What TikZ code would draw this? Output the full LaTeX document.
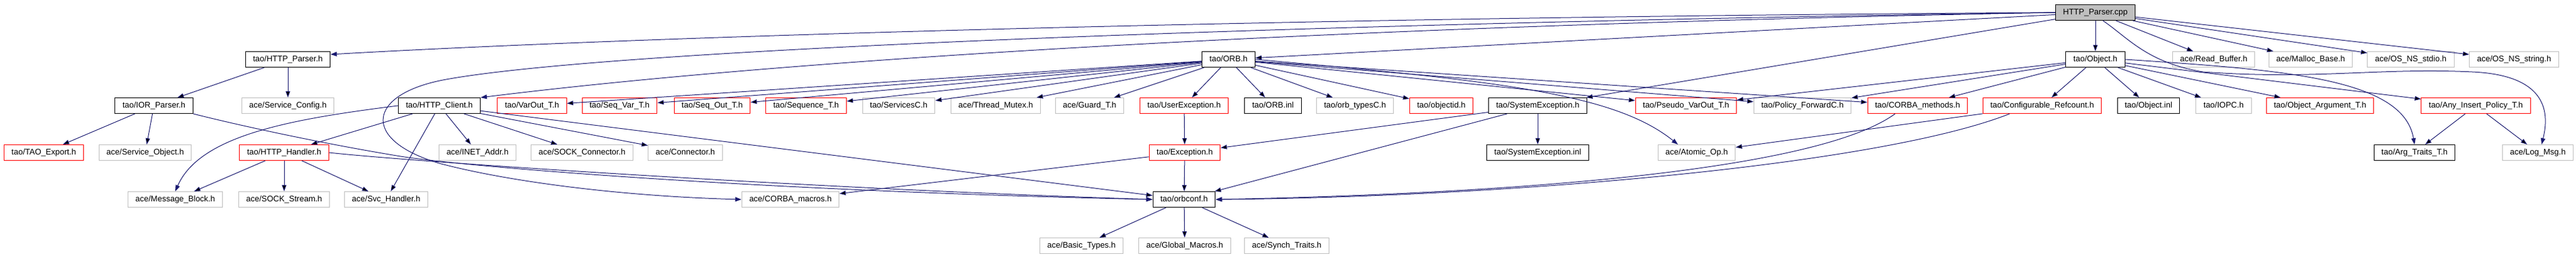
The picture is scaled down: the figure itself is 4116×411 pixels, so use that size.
\documentclass[tikz,border=0pt]{standalone}
\usepackage{fontspec}
\setmainfont{Liberation Sans}
\usetikzlibrary{arrows.meta}
\definecolor{edgeblue}{HTML}{191970}
\definecolor{boxgray}{HTML}{BFBFBF}

\begin{document}
\begin{tikzpicture}[x=1pt, y=-1pt, text=black,
  >={Triangle[length=10pt,width=7pt]},
  file/.style={draw, line width=1pt, inner xsep=12pt, inner ysep=0pt,
    minimum height=25pt, text height=9.5pt, text depth=2.5pt,
    font=\fontsize{13}{15}\selectfont},
  known/.style={file, draw=black},
  broken/.style={file, draw=red},
  extern/.style={file, draw=boxgray},
  dep/.style={draw=edgeblue, line width=1pt, ->}]

\useasboundingbox (0,0) rectangle (4116,411);

% the source file
\node (cpp) [known, fill=boxgray] at (3348,20) {HTTP\_Parser.cpp};

% row 1
\node (httpparser) [known] at (460,95) {tao/HTTP\_Parser.h};
\node (orb) [known] at (1963,95) {tao/ORB.h};
\node (object) [known] at (3348,95) {tao/Object.h};
\node (readbuf) [extern] at (3537,95) {ace/Read\_Buffer.h};
\node (mallocbase) [extern] at (3692,95) {ace/Malloc\_Base.h};
\node (osstdio) [extern] at (3852,95) {ace/OS\_NS\_stdio.h};
\node (osstring) [extern] at (4017,95) {ace/OS\_NS\_string.h};

% row 2
\node (iorparser) [known] at (246,169) {tao/IOR\_Parser.h};
\node (serviceconfig) [extern] at (460,169) {ace/Service\_Config.h};
\node (httpclient) [known] at (702,169) {tao/HTTP\_Client.h};
\node (varout) [broken] at (850,169) {tao/VarOut\_T.h};
\node (seqvar) [broken] at (990,169) {tao/Seq\_Var\_T.h};
\node (seqout) [broken] at (1138,169) {tao/Seq\_Out\_T.h};
\node (sequence) [broken] at (1288,169) {tao/Sequence\_T.h};
\node (servicesc) [extern] at (1436,169) {tao/ServicesC.h};
\node (threadmutex) [extern] at (1591,169) {ace/Thread\_Mutex.h};
\node (guard) [extern] at (1741,169) {ace/Guard\_T.h};
\node (userexc) [broken] at (1892,169) {tao/UserException.h};
\node (orbinl) [known] at (2034,169) {tao/ORB.inl};
\node (orbtypes) [extern] at (2165,169) {tao/orb\_typesC.h};
\node (objectid) [broken] at (2303,169) {tao/objectid.h};
\node (sysexc) [known] at (2457,169) {tao/SystemException.h};
\node (pseudovarout) [broken] at (2694,169) {tao/Pseudo\_VarOut\_T.h};
\node (policyfwd) [extern] at (2880,169) {tao/Policy\_ForwardC.h};
\node (corbamethods) [broken] at (3064,169) {tao/CORBA\_methods.h};
\node (refcount) [broken] at (3263,169) {tao/Configurable\_Refcount.h};
\node (objectinl) [known] at (3433,169) {tao/Object.inl};
\node (iopc) [extern] at (3553,169) {tao/IOPC.h};
\node (objectarg) [broken] at (3707,169) {tao/Object\_Argument\_T.h};
\node (anyinsert) [broken] at (3956,169) {tao/Any\_Insert\_Policy\_T.h};

% row 3
\node (taoexport) [broken] at (70,244) {tao/TAO\_Export.h};
\node (serviceobject) [extern] at (232,244) {ace/Service\_Object.h};
\node (httphandler) [broken] at (454,244) {tao/HTTP\_Handler.h};
\node (inetaddr) [extern] at (763,244) {ace/INET\_Addr.h};
\node (sockconnector) [extern] at (930,244) {ace/SOCK\_Connector.h};
\node (connector) [extern] at (1095,244) {ace/Connector.h};
\node (exception) [broken] at (1893,244) {tao/Exception.h};
\node (sysexcinl) [known] at (2457,244) {tao/SystemException.inl};
\node (atomicop) [extern] at (2711,244) {ace/Atomic\_Op.h};
\node (argtraits) [known] at (3858,244) {tao/Arg\_Traits\_T.h};
\node (logmsg) [extern] at (4055,244) {ace/Log\_Msg.h};

% row 4
\node (msgblock) [extern] at (280,319) {ace/Message\_Block.h};
\node (sockstream) [extern] at (454,319) {ace/SOCK\_Stream.h};
\node (svchandler) [extern] at (617,319) {ace/Svc\_Handler.h};
\node (corbamacros) [extern] at (1263,319) {ace/CORBA\_macros.h};
\node (orbconf) [known] at (1892,319) {tao/orbconf.h};

% row 5
\node (basictypes) [extern] at (1728,393) {ace/Basic\_Types.h};
\node (globalmacros) [extern] at (1893,393) {ace/Global\_Macros.h};
\node (synchtraits) [extern] at (2056,393) {ace/Synch\_Traits.h};

% HTTP_Parser.cpp includes
\draw[dep] (cpp.west) .. controls (2000,28) and (1000,60) .. ([yshift=8]httpparser.east);
\draw[dep] (cpp.west) .. controls (2200,40) and (1300,90) .. (httpclient.north east);
\draw[dep] (cpp.west) .. controls (2200,35) and (1000,75) .. (713,127)
  .. controls (585,150) and (575,225) .. (705,262)
  .. controls (820,292) and (1000,314) .. (corbamacros.west);
\path[dep] (cpp) edge (orb) edge (object) edge (sysexc)
  edge (readbuf) edge (mallocbase) edge (osstdio) edge (osstring);
\draw[dep] ([xshift=12]cpp.south) .. controls (3400,60) and (3430,100) .. (3520,115)
  .. controls (3700,128) and (3800,108) .. (3950,115)
  .. controls (4065,120) and (4075,175) .. ([xshift=6]logmsg.north);

% parser side
\path[dep] (httpparser) edge (iorparser) edge (serviceconfig);
\path[dep] (iorparser) edge (taoexport) edge (serviceobject);
\draw[dep] (iorparser.south east) .. controls (400,205) and (530,232) .. (640,250)
  .. controls (740,266) and (1200,305) .. (orbconf.west);

% client side
\path[dep] (httpclient) edge (httphandler) edge (svchandler) edge (inetaddr)
  edge (sockconnector) edge (connector) edge (orbconf);
\draw[dep] (httpclient.west) .. controls (470,190) and (320,215) .. (msgblock.north);
\path[dep] (httphandler) edge (msgblock) edge (sockstream) edge (svchandler);
\draw[dep] (httphandler.east) .. controls (650,258) and (1300,302) .. (orbconf.west);

% ORB.h includes
\path[dep] (orb) edge (varout) edge (seqvar) edge (seqout) edge (sequence)
  edge (servicesc) edge (threadmutex) edge (guard) edge (userexc)
  edge (orbinl) edge (orbtypes) edge (objectid) edge (pseudovarout)
  edge (policyfwd) edge (corbamethods);
\draw[dep] (orb.east) .. controls (2400,130) and (2580,150) .. ([xshift=-30]atomicop.north);

% Object.h includes
\path[dep] (object) edge (pseudovarout) edge (policyfwd) edge (corbamethods)
  edge (refcount) edge (objectinl) edge (iopc) edge (objectarg) edge (anyinsert);
\draw[dep] (object.east) .. controls (3650,112) and (3840,125) .. (argtraits.north);
\path[dep] (anyinsert) edge (argtraits) edge (logmsg);

% exceptions
\path[dep] (sysexc) edge (sysexcinl) edge (exception) edge (orbconf);
\path[dep] (userexc) edge (exception);
\path[dep] (exception) edge (orbconf) edge (corbamacros);

% down to orbconf.h
\draw[dep] ([xshift=-36]corbamethods.south) .. controls (2900,275) and (2400,310) .. (orbconf.east);
\draw[dep] ([xshift=-52]refcount.south) .. controls (3000,265) and (2400,315) .. (orbconf.east);
\path[dep] (refcount) edge (atomicop);
\path[dep] (orbconf) edge (basictypes) edge (globalmacros) edge (synchtraits);

\end{tikzpicture}
\end{document}
